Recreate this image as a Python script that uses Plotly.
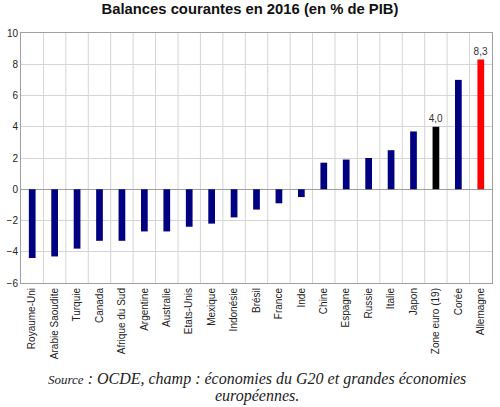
import plotly.graph_objects as go

categories = ["Royaume-Uni", "Arabie Saoudite", "Turquie", "Canada", "Afrique du Sud",
              "Argentine", "Australie", "Etats-Unis", "Mexique", "Indonésie", "Brésil",
              "France", "Inde", "Chine", "Espagne", "Russie", "Italie", "Japon",
              "Zone euro (19)", "Corée", "Allemagne"]
values = [-4.4, -4.3, -3.8, -3.3, -3.3, -2.7, -2.7, -2.4, -2.2, -1.8, -1.3,
          -0.9, -0.5, 1.7, 1.9, 2.0, 2.5, 3.7, 4.0, 7.0, 8.3]
labels = ["", "", "", "", "", "", "", "", "", "", "", "", "", "", "", "", "", "", "4,0", "", "8,3"]
y_ticks = [-6, -4, -2, 0, 2, 4, 6, 8, 10]

colors = []
for c in categories:
    if c == "Allemagne":
        colors.append("#ff0000")
    elif c == "Zone euro (19)":
        colors.append("#000000")
    else:
        colors.append("#000080")

fig = go.Figure(go.Bar(
    x=categories, y=values, marker=dict(color=colors, line=dict(width=0)),
    width=0.3, text=labels, textposition="outside", cliponaxis=False,
    constraintext="none",
    textfont=dict(family="Arial, Liberation Sans", size=10, color="#333333"),
))

fig.update_layout(
    width=500, height=407,
    margin=dict(l=21, r=8, t=33, b=124),
    paper_bgcolor="white", plot_bgcolor="white",
    showlegend=False,
    title=dict(text="<b>Balances courantes en 2016 (en % de PIB)</b>",
               x=0.5, xanchor="center", y=0.979, yanchor="middle",
               font=dict(family="Arial, Liberation Sans", size=14.8, color="#111111")),
    xaxis=dict(tickangle=-90, showgrid=False, showline=True, linecolor="#a0a0a0",
               mirror=True, ticks="", automargin=False,
               tickfont=dict(family="Arial, Liberation Sans", size=10, color="#222222")),
    yaxis=dict(range=[-6, 10], tickvals=y_ticks, showgrid=True, gridcolor="#d4d4d4",
               zeroline=True, zerolinecolor="#a0a0a0", zerolinewidth=1,
               showline=True, linecolor="#a0a0a0", mirror=True, ticks="", automargin=False,
               tickfont=dict(family="Arial, Liberation Sans", size=10, color="#222222")),
)

# vertical grid lines at category boundaries
for i in range(1, len(categories)):
    fig.add_shape(type="line", xref="x", yref="paper", x0=i - 0.5, x1=i - 0.5, y0=0, y1=1,
                  line=dict(color="#d4d4d4", width=1), layer="below")

src_font = dict(family="Liberation Serif, Times New Roman", size=16, color="#222222", style="italic")
fig.add_annotation(
    text="<span style='font-size:13px'>Source</span> : OCDE, champ : économies du G20 et grandes économies",
    xref="paper", yref="paper", x=0.5, y=-0.382, xanchor="center", yanchor="middle",
    showarrow=False, font=src_font,
)
fig.add_annotation(
    text="européennes.",
    xref="paper", yref="paper", x=0.5, y=-0.452, xanchor="center", yanchor="middle",
    showarrow=False, font=src_font,
)

fig.write_html("out.html", config={"displayModeBar": False},
               post_script="document.body.style.margin='0';")
